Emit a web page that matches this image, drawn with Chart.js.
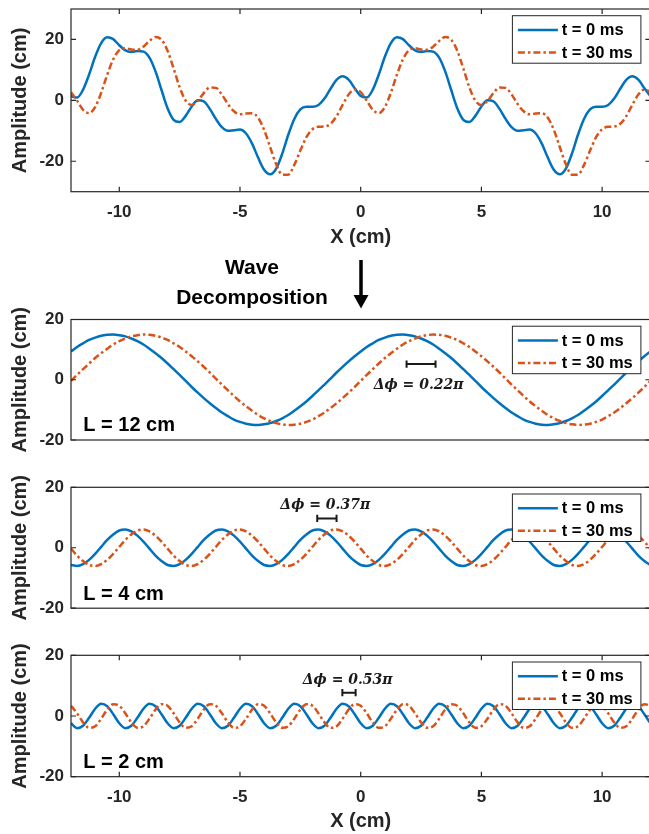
<!DOCTYPE html>
<html><head><meta charset="utf-8">
<script src="https://cdn.jsdelivr.net/npm/chart.js@4.4.1/dist/chart.umd.min.js"></script>
<style>
html,body{margin:0;padding:0;background:#fff;width:649px;height:834px;overflow:hidden;position:relative;}
canvas{position:absolute;left:0;top:0;}
#decomp{position:absolute;left:142px;width:220px;top:251.7px;text-align:center;font:bold 21px "Liberation Sans",Arial,Helvetica,sans-serif;line-height:30.7px;color:#000;}
#arrow{position:absolute;left:352px;top:258px;}
</style></head>
<body>
<canvas id="c1" width="652" height="834"></canvas>
<canvas id="c2" width="652" height="834"></canvas>
<canvas id="c3" width="652" height="834"></canvas>
<canvas id="c4" width="652" height="834"></canvas>
<div id="decomp">Wave<br>Decomposition</div>
<svg id="arrow" width="18" height="54"><line x1="9" y1="2" x2="9" y2="38" stroke="#000" stroke-width="3.5"/><polygon points="1.5,37 16.5,37 9,50.5" fill="#000"/></svg>
<script>
// ---------- data ----------
const xs = [-12,-11.75,-11.5,-11.25,-11,-10.75,-10.5,-10.25,-10,-9.75,-9.5,-9.25,-9,-8.75,-8.5,-8.25,-8,-7.75,-7.5,-7.25,-7,-6.75,-6.5,-6.25,-6,-5.75,-5.5,-5.25,-5,-4.75,-4.5,-4.25,-4,-3.75,-3.5,-3.25,-3,-2.75,-2.5,-2.25,-2,-1.75,-1.5,-1.25,-1,-0.75,-0.5,-0.25,0,0.25,0.5,0.75,1,1.25,1.5,1.75,2,2.25,2.5,2.75,3,3.25,3.5,3.75,4,4.25,4.5,4.75,5,5.25,5.5,5.75,6,6.25,6.5,6.75,7,7.25,7.5,7.75,8,8.25,8.5,8.75,9,9.25,9.5,9.75,10,10.25,10.5,10.75,11,11.25,11.5,11.75,12];

const blueTop = [1.4,0.9,3.5,8.5,14.3,18.8,20.7,20.1,18.1,16.4,15.9,16.2,16.0,14.0,9.5,3.4,-2.6,-6.4,-7.1,-5.1,-2.0,0.0,-0.3,-2.8,-6.1,-8.8,-10.0,-9.8,-9.6,-10.9,-14.2,-18.8,-22.8,-24.3,-22.4,-17.5,-11.3,-6.1,-3.0,-2.1,-2.1,-1.5,0.6,3.8,6.7,7.9,6.8,4.0,
1.4,0.9,3.5,8.5,14.3,18.8,20.7,20.1,18.1,16.4,15.9,16.2,16.0,14.0,9.5,3.4,-2.6,-6.4,-7.1,-5.1,-2.0,0.0,-0.3,-2.8,-6.1,-8.8,-10.0,-9.8,-9.6,-10.9,-14.2,-18.8,-22.8,-24.3,-22.4,-17.5,-11.3,-6.1,-3.0,-2.1,-2.1,-1.5,0.6,3.8,6.7,7.9,6.8,4.0,
1.4];
const redTop = [2.7,-0.1,-3.1,-4.2,-2.2,2.5,8.4,13.5,16.5,17.1,16.7,16.6,17.6,19.5,20.8,19.9,16.3,10.5,4.3,-0.1,-1.5,-0.2,2.4,4.2,4.1,1.9,-1.2,-3.6,-4.6,-4.3,-4.2,-5.7,-9.7,-15.4,-21.0,-24.4,-24.4,-21.2,-16.5,-12.1,-9.5,-8.7,-8.6,-7.7,-5.2,-1.5,1.9,3.6,
2.7,-0.1,-3.1,-4.2,-2.2,2.5,8.4,13.5,16.5,17.1,16.7,16.6,17.6,19.5,20.8,19.9,16.3,10.5,4.3,-0.1,-1.5,-0.2,2.4,4.2,4.1,1.9,-1.2,-3.6,-4.6,-4.3,-4.2,-5.7,-9.7,-15.4,-21.0,-24.4,-24.4,-21.2,-16.5,-12.1,-9.5,-8.7,-8.6,-7.7,-5.2,-1.5,1.9,3.6,
2.7];

const blueL12 = [9.4,10.9,12.1,13.2,14.0,14.6,14.9,15.0,14.8,14.4,13.7,12.8,11.7,10.3,8.8,7.2,5.4,3.5,1.6,-0.4,-2.4,-4.3,-6.1,-7.8,
-9.4,-10.9,-12.1,-13.2,-14.0,-14.6,-14.9,-15.0,-14.8,-14.4,-13.7,-12.8,-11.7,-10.3,-8.8,-7.2,-5.4,-3.5,-1.6,0.4,2.4,4.3,6.1,7.8,
9.4,10.9,12.1,13.2,14.0,14.6,14.9,15.0,14.8,14.4,13.7,12.8,11.7,10.3,8.8,7.2,5.4,3.5,1.6,-0.4,-2.4,-4.3,-6.1,-7.8,
-9.4,-10.9,-12.1,-13.2,-14.0,-14.6,-14.9,-15.0,-14.8,-14.4,-13.7,-12.8,-11.7,-10.3,-8.8,-7.2,-5.4,-3.5,-1.6,0.4,2.4,4.3,6.1,7.8,
9.4];
const redL12 = [-0.4,1.6,3.5,5.4,7.2,8.8,10.3,11.7,12.8,13.7,14.4,14.8,15.0,14.9,14.6,14.0,13.2,12.1,10.9,9.4,7.8,6.1,4.3,2.4,
0.4,-1.6,-3.5,-5.4,-7.2,-8.8,-10.3,-11.7,-12.8,-13.7,-14.4,-14.8,-15.0,-14.9,-14.6,-14.0,-13.2,-12.1,-10.9,-9.4,-7.8,-6.1,-4.3,-2.4,
-0.4,1.6,3.5,5.4,7.2,8.8,10.3,11.7,12.8,13.7,14.4,14.8,15.0,14.9,14.6,14.0,13.2,12.1,10.9,9.4,7.8,6.1,4.3,2.4,
0.4,-1.6,-3.5,-5.4,-7.2,-8.8,-10.3,-11.7,-12.8,-13.7,-14.4,-14.8,-15.0,-14.9,-14.6,-14.0,-13.2,-12.1,-10.9,-9.4,-7.8,-6.1,-4.3,-2.4,
-0.4];

const blueL4 = [-5.7,-6.0,-5.4,-4.0,-2.0,0.3,2.6,4.4,5.7,6.0,5.4,4.0,2.0,-0.3,-2.6,-4.4,
-5.7,-6.0,-5.4,-4.0,-2.0,0.3,2.6,4.4,5.7,6.0,5.4,4.0,2.0,-0.3,-2.6,-4.4,
-5.7,-6.0,-5.4,-4.0,-2.0,0.3,2.6,4.4,5.7,6.0,5.4,4.0,2.0,-0.3,-2.6,-4.4,
-5.7,-6.0,-5.4,-4.0,-2.0,0.3,2.6,4.4,5.7,6.0,5.4,4.0,2.0,-0.3,-2.6,-4.4,
-5.7,-6.0,-5.4,-4.0,-2.0,0.3,2.6,4.4,5.7,6.0,5.4,4.0,2.0,-0.3,-2.6,-4.4,
-5.7,-6.0,-5.4,-4.0,-2.0,0.3,2.6,4.4,5.7,6.0,5.4,4.0,2.0,-0.3,-2.6,-4.4,
-5.7];
const redL4 = [-0.3,-2.6,-4.4,-5.7,-6.0,-5.4,-4.0,-2.0,0.3,2.6,4.4,5.7,6.0,5.4,4.0,2.0,
-0.3,-2.6,-4.4,-5.7,-6.0,-5.4,-4.0,-2.0,0.3,2.6,4.4,5.7,6.0,5.4,4.0,2.0,
-0.3,-2.6,-4.4,-5.7,-6.0,-5.4,-4.0,-2.0,0.3,2.6,4.4,5.7,6.0,5.4,4.0,2.0,
-0.3,-2.6,-4.4,-5.7,-6.0,-5.4,-4.0,-2.0,0.3,2.6,4.4,5.7,6.0,5.4,4.0,2.0,
-0.3,-2.6,-4.4,-5.7,-6.0,-5.4,-4.0,-2.0,0.3,2.6,4.4,5.7,6.0,5.4,4.0,2.0,
-0.3,-2.6,-4.4,-5.7,-6.0,-5.4,-4.0,-2.0,0.3,2.6,4.4,5.7,6.0,5.4,4.0,2.0,
-0.3];

const blueL2 = [-2.4,-4.0,-3.2,-0.6,2.4,4.0,3.2,0.6, -2.4,-4.0,-3.2,-0.6,2.4,4.0,3.2,0.6,
-2.4,-4.0,-3.2,-0.6,2.4,4.0,3.2,0.6, -2.4,-4.0,-3.2,-0.6,2.4,4.0,3.2,0.6,
-2.4,-4.0,-3.2,-0.6,2.4,4.0,3.2,0.6, -2.4,-4.0,-3.2,-0.6,2.4,4.0,3.2,0.6,
-2.4,-4.0,-3.2,-0.6,2.4,4.0,3.2,0.6, -2.4,-4.0,-3.2,-0.6,2.4,4.0,3.2,0.6,
-2.4,-4.0,-3.2,-0.6,2.4,4.0,3.2,0.6, -2.4,-4.0,-3.2,-0.6,2.4,4.0,3.2,0.6,
-2.4,-4.0,-3.2,-0.6,2.4,4.0,3.2,0.6, -2.4,-4.0,-3.2,-0.6,2.4,4.0,3.2,0.6,
-2.4];
const redL2 = [3.4,0.9,-2.1,-3.9,-3.4,-0.9,2.1,3.9, 3.4,0.9,-2.1,-3.9,-3.4,-0.9,2.1,3.9,
3.4,0.9,-2.1,-3.9,-3.4,-0.9,2.1,3.9, 3.4,0.9,-2.1,-3.9,-3.4,-0.9,2.1,3.9,
3.4,0.9,-2.1,-3.9,-3.4,-0.9,2.1,3.9, 3.4,0.9,-2.1,-3.9,-3.4,-0.9,2.1,3.9,
3.4,0.9,-2.1,-3.9,-3.4,-0.9,2.1,3.9, 3.4,0.9,-2.1,-3.9,-3.4,-0.9,2.1,3.9,
3.4,0.9,-2.1,-3.9,-3.4,-0.9,2.1,3.9, 3.4,0.9,-2.1,-3.9,-3.4,-0.9,2.1,3.9,
3.4,0.9,-2.1,-3.9,-3.4,-0.9,2.1,3.9, 3.4,0.9,-2.1,-3.9,-3.4,-0.9,2.1,3.9,
3.4];

const xTicks = [-10, -5, 0, 5, 10];
const yTicks = [-20, 0, 20];
const seriesLabels = ['t = 0 ms', 't = 30 ms'];
const panelLabels = ['L = 12 cm', 'L = 4 cm', 'L = 2 cm'];
const phaseLabels = ['Δϕ = 0.22π', 'Δϕ = 0.37π', 'Δϕ = 0.53π'];

// ---------- layout / style ----------
const FONT = '"Liberation Sans", Arial, Helvetica, sans-serif';
const BLUE = '#0072BD', RED = '#D95319';
const DASH = [7, 3, 2.5, 3];
const CW = 652, CH = 834, RIGHT = 650.4, LEFT = 71;

const panels = [
  {id:'c1', blue:blueTop, red:redTop, top:9, bottom:191.7, ymin:-30, ymax:30, xAxis:true, xAxisH:58.3, label:null, phase:null},
  {id:'c2', blue:blueL12, red:redL12, top:319.5, bottom:440, ymin:-20, ymax:20, xAxis:false, label:panelLabels[0],
   phase:{text:phaseLabels[0], x1:1.9, x2:3.1, y:5.2, tx:2.4, ty:-2.0}},
  {id:'c3', blue:blueL4, red:redL4, top:487.3, bottom:608.2, ymin:-20, ymax:20, xAxis:false, label:panelLabels[1],
   phase:{text:phaseLabels[1], x1:-1.8, x2:-1.0, y:9.7, tx:-1.47, ty:14.1}},
  {id:'c4', blue:blueL2, red:redL2, top:655.3, bottom:776.7, ymin:-20, ymax:20, xAxis:true, xAxisH:57.3, label:panelLabels[2],
   phase:{text:phaseLabels[2], x1:-0.76, x2:-0.21, y:7.7, tx:-0.54, ty:11.6}}
];

const decor = {
  id: 'decor',
  afterDatasetsDraw(chart, args, opts) {
    const p = opts.panel;
    const {ctx, chartArea: a, scales: {x, y}} = chart;
    ctx.save();
    // axes box
    ctx.strokeStyle = '#262626';
    ctx.lineWidth = 1.2;
    ctx.setLineDash([]);
    ctx.strokeRect(a.left, a.top, a.right - a.left, a.bottom - a.top);
    // inward ticks
    const TL = 5;
    ctx.beginPath();
    yTicks.forEach(v => {
      const py = y.getPixelForValue(v);
      ctx.moveTo(a.left, py); ctx.lineTo(a.left + TL, py);
      ctx.moveTo(a.right, py); ctx.lineTo(a.right - TL, py);
    });
    if (p.xAxis) {
      xTicks.forEach(v => {
        const px = x.getPixelForValue(v);
        ctx.moveTo(px, a.bottom); ctx.lineTo(px, a.bottom - TL);
        ctx.moveTo(px, a.top); ctx.lineTo(px, a.top + TL);
      });
    }
    ctx.stroke();
    // panel label
    if (p.label) {
      ctx.fillStyle = '#000';
      ctx.font = 'bold 20px ' + FONT;
      ctx.textAlign = 'left';
      ctx.textBaseline = 'alphabetic';
      ctx.fillText(p.label, 83.3, a.bottom - 8.7);
    }
    // phase-shift annotation
    if (p.phase) {
      const ph = p.phase;
      const X1 = x.getPixelForValue(ph.x1), X2 = x.getPixelForValue(ph.x2), Y = y.getPixelForValue(ph.y);
      ctx.strokeStyle = '#1a1a1a';
      ctx.lineWidth = 2;
      ctx.beginPath();
      ctx.moveTo(X1, Y); ctx.lineTo(X2, Y);
      ctx.moveTo(X1, Y - 3.6); ctx.lineTo(X1, Y + 3.6);
      ctx.moveTo(X2, Y - 3.6); ctx.lineTo(X2, Y + 3.6);
      ctx.stroke();
      ctx.fillStyle = '#1a1a1a';
      ctx.font = 'italic bold 14px "DejaVu Serif", serif';
      ctx.textAlign = 'center';
      ctx.textBaseline = 'middle';
      ctx.fillText(ph.text, x.getPixelForValue(ph.tx), y.getPixelForValue(ph.ty));
    }
    ctx.restore();
  },
  afterDraw(chart, args, opts) {
    const {ctx, chartArea: a} = chart;
    ctx.save();
    const lx = a.right - 138, ly = a.top + 6.7, lw = 128.5, lh = 47.5;
    ctx.fillStyle = '#fff';
    ctx.fillRect(lx, ly, lw, lh);
    ctx.strokeStyle = '#262626';
    ctx.lineWidth = 1;
    ctx.setLineDash([]);
    ctx.strokeRect(lx, ly, lw, lh);
    const rows = [ly + 14.3, ly + 36.8];
    chart.data.datasets.forEach((ds, i) => {
      ctx.strokeStyle = ds.borderColor;
      ctx.lineWidth = 2.5;
      ctx.setLineDash(ds.borderDash || []);
      ctx.beginPath();
      ctx.moveTo(lx + 5.5, rows[i]); ctx.lineTo(lx + 45.5, rows[i]);
      ctx.stroke();
      ctx.setLineDash([]);
      ctx.fillStyle = '#000';
      ctx.font = 'bold 16.5px ' + FONT;
      ctx.textAlign = 'left';
      ctx.textBaseline = 'middle';
      ctx.fillText(ds.label, lx + 49.3, rows[i] + 0.5);
    });
    ctx.restore();
  }
};

panels.forEach(p => {
  const mk = arr => xs.map((xv, i) => ({x: xv, y: arr[i]}));
  new Chart(document.getElementById(p.id), {
    type: 'line',
    data: {
      datasets: [
        {label: seriesLabels[0], data: mk(p.blue), borderColor: BLUE, borderWidth: 2.5, pointRadius: 0,
         cubicInterpolationMode: 'monotone', fill: false, order: 1},
        {label: seriesLabels[1], data: mk(p.red), borderColor: RED, borderWidth: 2.5, pointRadius: 0,
         borderDash: DASH, cubicInterpolationMode: 'monotone', fill: false, order: 0}
      ]
    },
    options: {
      responsive: false, animation: false, devicePixelRatio: 1, events: [],
      layout: {padding: {top: p.top, left: 0, right: CW - RIGHT,
        bottom: p.xAxis ? CH - p.bottom - p.xAxisH : CH - p.bottom}},
      plugins: {legend: {display: false}, tooltip: {enabled: false}, decor: {panel: p}},
      scales: {
        x: {
          type: 'linear', min: -12, max: 12, display: p.xAxis,
          grid: {display: false, drawTicks: false}, border: {display: false},
          afterBuildTicks: s => { s.ticks = xTicks.map(v => ({value: v})); },
          afterFit: s => { if (p.xAxis) s.height = p.xAxisH; s.paddingLeft = 0; s.paddingRight = 0; },
          ticks: {font: {family: FONT, size: 17, weight: 'bold'}, color: '#262626', padding: 10, maxRotation: 0, autoSkip: false},
          title: {display: true, text: 'X (cm)', font: {family: FONT, size: 20, weight: 'bold'}, color: '#262626', padding: {top: 0, bottom: 0.5}}
        },
        y: {
          type: 'linear', min: p.ymin, max: p.ymax, position: 'left',
          grid: {display: false, drawTicks: false}, border: {display: false},
          afterBuildTicks: s => { s.ticks = yTicks.map(v => ({value: v})); },
          afterFit: s => { s.width = LEFT; s.paddingTop = 0; s.paddingBottom = 0; },
          ticks: {font: {family: FONT, size: 17, weight: 'bold'}, color: '#262626', padding: 7},
          title: {display: true, text: 'Amplitude (cm)', font: {family: FONT, size: 20, weight: 'bold'}, color: '#262626', padding: {top: 8.5, bottom: 0}}
        }
      }
    },
    plugins: [decor]
  });
});
</script>
</body></html>
